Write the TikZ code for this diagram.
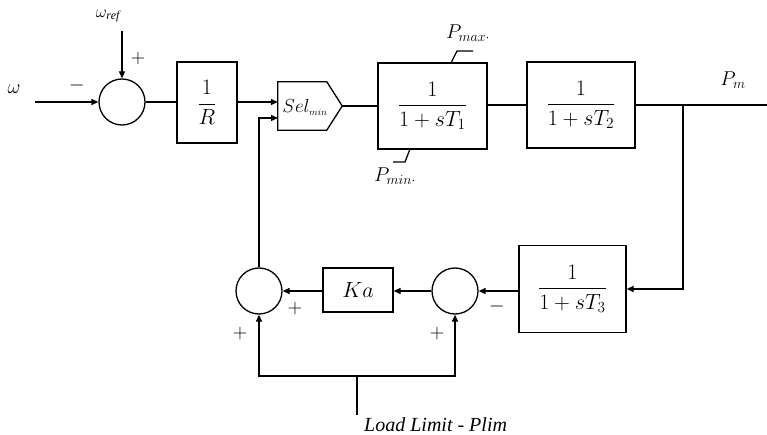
\RequirePackage{fix-cm}
\documentclass[tikz,border=0pt]{standalone}
\usepackage{amsmath}
\usepackage{fontspec}
\setmainfont{Liberation Serif}
\usetikzlibrary{arrows.meta,calc}
\begin{document}
\begin{tikzpicture}[x=1pt,y=-1pt,
  ln/.style={line width=1.3pt},
  blk/.style={draw, ln, inner sep=0pt, font=\fontsize{22}{26}\selectfont},
  sumc/.style={draw, ln, circle, minimum size=46pt, inner sep=0pt},
  arr/.style={ln, -{Triangle[length=7pt,width=6pt]}},
  sgn/.style={font=\fontsize{20}{22}\selectfont, inner sep=0pt},
  lbl/.style={font=\fontsize{20}{24}\selectfont, inner sep=0pt}]
\useasboundingbox (0,0) rectangle (767,435);
% blocks
\node[sumc] (s1) at (122,102) {};
\node[blk, minimum width=60pt, minimum height=81pt] (R) at (207,102.5) {$\dfrac{1}{R}$};
\node[minimum width=64pt, minimum height=48pt, inner sep=0pt] (sel) at (310,106) {};
\draw[ln] (sel.north west) -- ++(49,0) -- (sel.east) -- ($(sel.south west)+(49,0)$) -- (sel.south west) -- cycle;
\node[font=\fontsize{19}{22}\selectfont, inner sep=0pt] (seltxt) at (305,107) {$Sel_{\scriptscriptstyle min}$};
\node[blk, minimum width=109pt, minimum height=86pt] (b1) at (432.5,106) {$\dfrac{1}{1+sT_1}$};
\node[blk, minimum width=108pt, minimum height=86pt] (b2) at (581,105) {$\dfrac{1}{1+sT_2}$};
\node[blk, minimum width=107pt, minimum height=87pt] (b3) at (572.5,289) {$\dfrac{1}{1+sT_3}$};
\node[sumc] (s3) at (455,291) {};
\node[blk, minimum width=70pt, minimum height=44pt] (Ka) at (358,290) {$Ka$};
\node[sumc] (s2) at (259,291) {};
% coordinates
\coordinate (win) at (35,102);
\coordinate (wref) at (122,31);
\coordinate (br) at (683,105);
\coordinate (pout) at (767,105);
\coordinate (sin2) at (278,118);
\coordinate (jn) at (357,376);
\coordinate (llend) at (357,415);
% labels
\node[lbl] (w) at (14,89) {$\omega$};
\node[font=\fontsize{17}{18}\selectfont, inner sep=0pt] (wr) at (108,16) {$\omega_{\mathit{ref}}$};
\node[sgn] (p1) at (138,59) {$+$};
\node[sgn] (m1) at (77,86) {$-$};
\node[lbl] (pmax) at (468,33) {$P_{max\cdot}$};
\node[lbl] (pmin) at (395,176) {$P_{min\cdot}$};
\node[lbl] (pm) at (733,80) {$P_m$};
\node[sgn] (p2) at (295,308) {$+$};
\node[sgn] (p3) at (240,333) {$+$};
\node[sgn] (p4) at (437,333) {$+$};
\node[sgn] (m2) at (497,306) {$-$};
\node[font=\fontsize{20}{24}\selectfont\itshape, inner sep=0pt, anchor=west] (ll) at (364,425) {Load Limit - Plim};
% limit marks
\draw[ln] (451,63) -- (457,51) -- (473,51);
\draw[ln] (410,149) -- (405,162) -- (393,162);
% connectors
\draw[arr] (win) -- (s1.west);
\draw[arr] (wref) -- (s1.north);
\draw[ln] (s1.east) -- (R.west |- s1.east);
\draw[arr] (R.east |- s1.east) -- (sel.west |- s1.east);
\draw[arr] (s2.north) |- (sin2);
\draw[ln] (sel.east) -- (b1.west |- sel.east);
\draw[ln] (b1.east |- b2.west) -- (b2.west);
\draw[ln] (b2.east) -- (pout);
\draw[arr] (br) |- (b3.east);
\draw[arr] (b3.west |- s3.east) -- (s3.east);
\draw[arr] (s3.west) -- (Ka.east |- s3.west);
\draw[arr] (Ka.west |- s2.east) -- (s2.east);
\draw[arr] (jn) -| (s2.south);
\draw[arr] (jn) -| (s3.south);
\draw[ln] (jn) -- (llend);
\end{tikzpicture}
\end{document}
